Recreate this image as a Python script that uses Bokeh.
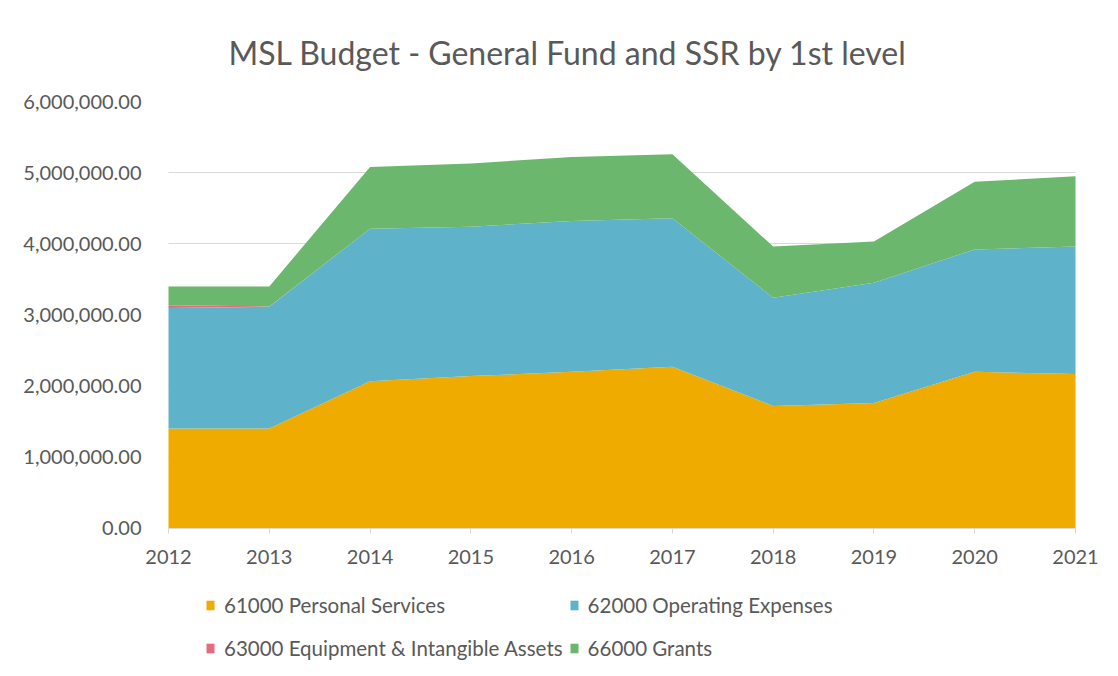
from bokeh.plotting import figure
from bokeh.models import ColumnDataSource, Range1d, FixedTicker, NumeralTickFormatter, Legend, Title
from bokeh.embed import file_html
from bokeh.resources import INLINE

years = [2012, 2013, 2014, 2015, 2016, 2017, 2018, 2019, 2020, 2021]
personal_services = [1403000, 1403000, 2066000, 2140000, 2200000, 2270000, 1720000, 1760000, 2200000, 2170000]
operating_expenses = [1692000, 1712000, 2144000, 2100000, 2120000, 2090000, 1520000, 1690000, 1720000, 1790000]
equipment_assets = [42000, 3000, 0, 0, 0, 0, 0, 0, 0, 0]
grants = [263000, 282000, 870000, 890000, 900000, 900000, 720000, 580000, 950000, 990000]

series_names = ["61000 Personal Services", "62000 Operating Expenses",
                "63000 Equipment & Intangible Assets", "66000 Grants"]
colors = ["#EFAB00", "#5EB3CB", "#E76A81", "#6BB76D"]
y_ticks = [0, 1000000, 2000000, 3000000, 4000000, 5000000, 6000000]

FONT = "Lato"
TXT = "#595959"

src = ColumnDataSource(dict(x=years, ps=personal_services, oe=operating_expenses,
                            eq=equipment_assets, gr=grants))

W, H = 1102, 668
# data area: first year at x=168, last at x=1075; value 0 at y=527, 6,000,000 at y=98.
# The frame is a little larger (blank margins) so that the axis labels and the
# legend drawn inside it are not clipped.
FL, FR = 144, 1100
px_per_year = (1075 - 168) / (years[-1] - years[0])
x_start = years[0] - (168 - FL) / px_per_year
x_end = years[-1] + (FR - 1075) / px_per_year
px_per_unit = (527 - 98) / 6000000
y_bottom = -(H - 527) / px_per_unit

p = figure(width=W, height=H, output_backend="svg", toolbar_location=None,
           x_range=Range1d(x_start, x_end), y_range=Range1d(y_bottom, 6000000),
           min_border_left=FL, min_border_right=W - FR, min_border_top=98,
           min_border_bottom=0)
p.outline_line_color = None
p.background_fill_color = "white"
p.border_fill_color = "white"

renderers = p.varea_stack(stackers=["ps", "oe", "eq", "gr"], x="x", color=colors, source=src)

# main x axis (drawn on the zero line) and y axis
xa = p.below[0]
ya = p.left[0]

xa.ticker = FixedTicker(ticks=years)
xa.fixed_location = 0
xa.bounds = (years[0], years[-1])
ya.ticker = FixedTicker(ticks=y_ticks)
ya.formatter = NumeralTickFormatter(format="0,0.00")

for ax in (xa, ya):
    ax.major_label_text_font = FONT
    ax.major_label_text_font_size = "20px"
    ax.major_label_text_color = TXT
    ax.minor_tick_line_color = None

xa.axis_line_color = "#D9D9D9"
xa.major_tick_line_color = "#D9D9D9"
xa.major_tick_in = 0
xa.major_tick_out = 5
xa.major_label_standoff = 17

ya.axis_line_color = None
ya.major_tick_line_color = None
ya.major_label_standoff = -3

title = Title(text="MSL Budget - General Fund and SSR by 1st level", align="left",
              offset=228 - FL,
              text_font=FONT, text_font_size="32px", text_font_style="normal",
              text_color=TXT, standoff=60)
p.add_layout(title, "above")

p.xgrid.grid_line_color = None
p.ygrid.grid_line_color = "#D9D9D9"
p.ygrid.grid_line_width = 1
try:
    p.ygrid.cross_bounds = (years[0], years[-1])
except Exception:
    pass

# column-wise filling: column 1 = first and third series, column 2 = second and fourth
order = [0, 2, 1, 3]
legend = Legend(items=[(series_names[i], [renderers[i]]) for i in order],
                location=(205 - FL, 1.5), ncols=2,
                label_text_font=FONT, label_text_font_size="20.5px", label_text_color=TXT,
                glyph_width=10, glyph_height=12, label_standoff=9, label_height=37,
                spacing=6, padding=0, margin=0,
                border_line_color=None, background_fill_alpha=0)
p.add_layout(legend, "center")

open("out.html", "w").write(file_html(p, INLINE))
